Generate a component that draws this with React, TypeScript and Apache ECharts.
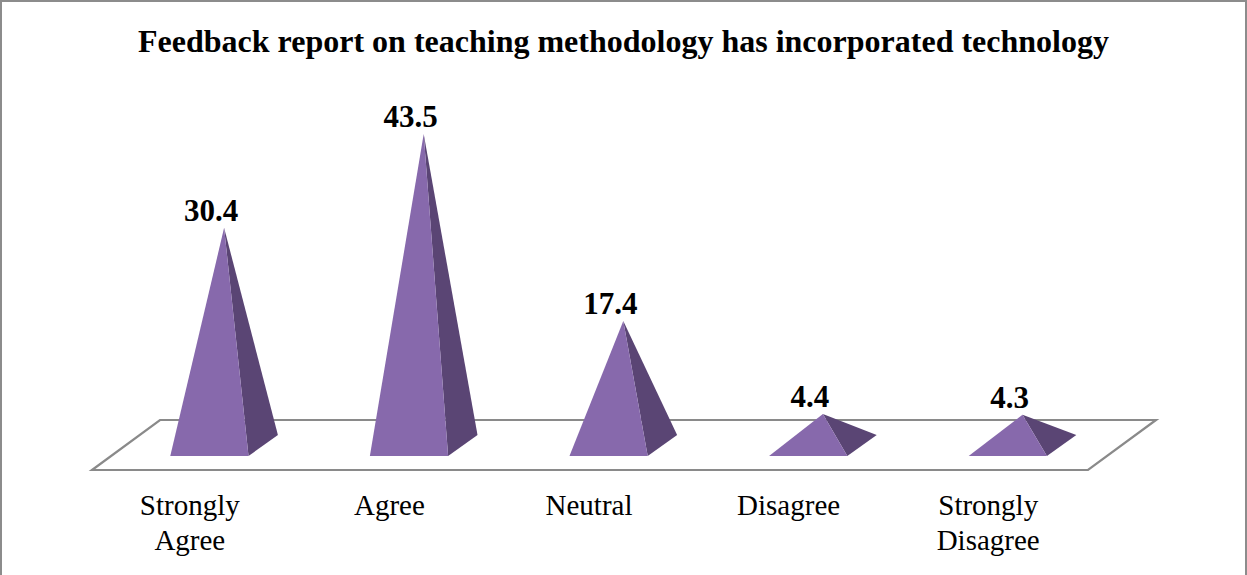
import React, { useEffect, useRef } from "react";
import * as echarts from "echarts";

const categories = ["Strongly\nAgree", "Agree", "Neutral", "Disagree", "Strongly\nDisagree"];
const values = [30.4, 43.5, 17.4, 4.4, 4.3];
const titleText = "Feedback report on teaching methodology has incorporated technology";

const FRONT = "#8769ac";
const SIDE = "#5a4574";
const FONT = '"Liberation Serif", "Times New Roman", serif';

export default function App() {
  const ref = useRef<HTMLDivElement>(null);
  useEffect(() => {
    if (!ref.current) return;
    const chart = echarts.init(ref.current, undefined, { renderer: "svg" });
    const r = 1.4;
    chart.setOption({
      animation: false,
      backgroundColor: "#ffffff",
      title: {
        text: titleText,
        left: "center",
        top: 20,
        textStyle: { fontFamily: FONT, fontSize: 32, fontWeight: "bold", color: "#000" },
      },
      graphic: [
        {
          type: "rect",
          shape: { x: 1, y: 1, width: 1245, height: 620 },
          style: { fill: "none", stroke: "#8c8c8c", lineWidth: 2 },
          silent: true,
        },
      ],
      grid: { left: 90, right: 159, top: 112, bottom: 105 },
      xAxis: {
        type: "category",
        data: categories,
        axisLine: { show: false },
        axisTick: { show: false },
        splitLine: { show: false },
        axisLabel: {
          margin: 17,
          fontFamily: FONT,
          fontSize: 29,
          lineHeight: 35,
          color: "#000",
          interval: 0,
        },
      },
      yAxis: { type: "value", min: 0, max: 50, show: false },
      series: [
        {
          type: "custom",
          coordinateSystem: "cartesian2d",
          silent: true,
          clip: false,
          data: [[0, 0]],
          renderItem: (params: any) => {
            const cs = params.coordSys;
            const x0 = cs.x + 2;
            const x1 = cs.x + cs.width;
            const y = cs.y + cs.height;
            const D = 50;
            const rr = 1.36;
            return {
              type: "polygon",
              shape: {
                points: [
                  [x0, y],
                  [x1, y],
                  [x1 + D * rr, y - D],
                  [x0 + D * rr, y - D],
                ],
              },
              style: { fill: "#ffffff", stroke: "#8a8a8a", lineWidth: 2.2 },
            };
          },
          z: 1,
        },
        {
          type: "custom",
          coordinateSystem: "cartesian2d",
          clip: false,
          data: values.map((v, i) => [i, v]),
          renderItem: (params: any, api: any) => {
            const i = api.value(0);
            const v = api.value(1);
            const base = api.coord([i, 0]);
            const top = api.coord([i, v]);
            const bw = api.size([1, 0])[0];
            const hw = bw * 0.196;
            const dF = 14, dB = 35, dC = 24.5;
            const cx = base[0];
            const y0 = base[1];
            const apex = [cx + dC * r, top[1] - dC];
            const fl = [cx + dF * r - hw, y0 - dF];
            const fr = [cx + dF * r + hw, y0 - dF];
            const br = [cx + dB * r + hw, y0 - dB];
            return {
              type: "group",
              children: [
                { type: "polygon", shape: { points: [fr, br, apex] }, style: { fill: SIDE } },
                { type: "polygon", shape: { points: [fl, fr, apex] }, style: { fill: FRONT } },
                {
                  type: "text",
                  style: {
                    text: String(v),
                    x: apex[0] - 13,
                    y: apex[1] - 2,
                    align: "center",
                    verticalAlign: "bottom",
                    fontFamily: FONT,
                    fontSize: 31,
                    fontWeight: "bold",
                    fill: "#000",
                  },
                },
              ],
            };
          },
          z: 2,
        },
      ],
    });
    return () => chart.dispose();
  }, []);
  return (
    <div
      ref={ref}
      style={{ position: "fixed", left: 0, top: 0, width: 1247, height: 575 }}
    />
  );
}
